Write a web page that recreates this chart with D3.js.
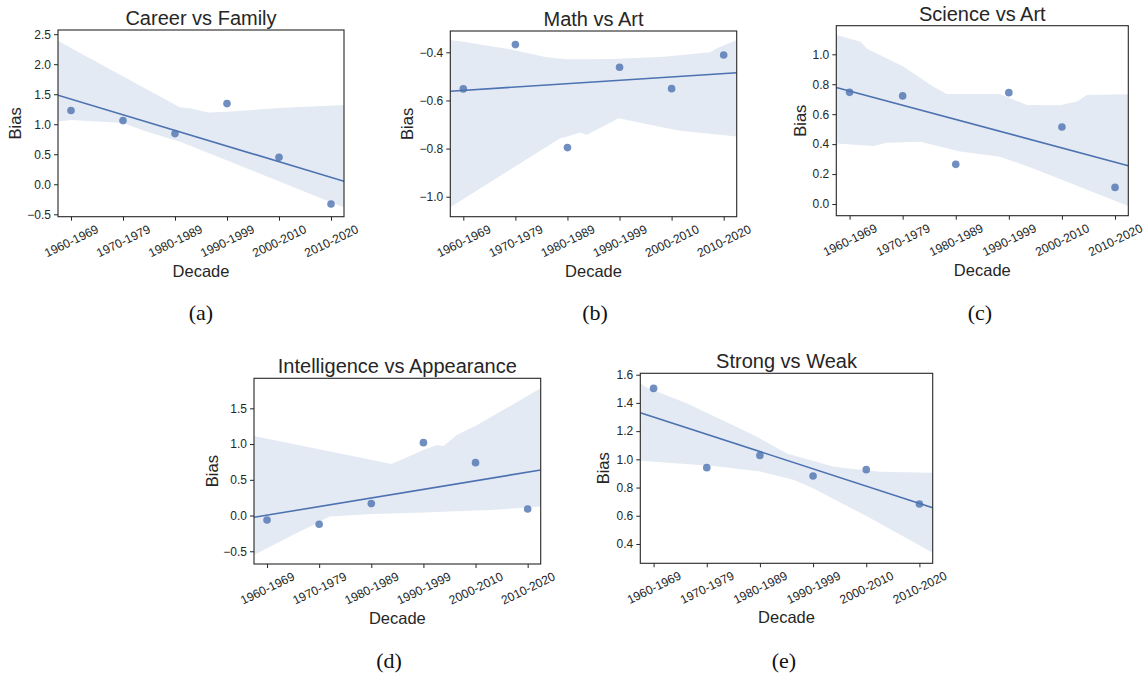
<!DOCTYPE html>
<html>
  <head>
    <meta charset="utf-8">
    <script src="https://d3js.org/d3.v7.min.js"></script>
    <style>
      body { margin: 0; background: #fff; }
      svg { display: block; font-family: "Liberation Sans", Arial, sans-serif; }
    </style>
  </head>
  <body>
    <script>

    // decade categories on the x axis
    var decades = ["1960-1969", "1970-1979", "1980-1989", "1990-1999", "2000-2010", "2010-2020"];

    // bias values per decade
    var careerFamily = [1.228, 1.061, 0.844, 1.344, 0.450, -0.328];
    var mathArt = [-0.552, -0.368, -0.796, -0.462, -0.551, -0.411];
    var scienceArt = [0.746, 0.722, 0.265, 0.744, 0.514, 0.111];
    var intelAppearance = [-0.062, -0.122, 0.167, 1.020, 0.740, 0.092];
    var strongWeak = [1.503, 0.941, 1.028, 0.882, 0.927, 0.683];

    // confidence band edges as [decade index, bias]
    var careerFamilyUpper = [[-0.25, 2.39], [0, 2.27], [2.1, 1.28], [2.29, 1.265], [2.64, 1.195], [3.0, 1.21], [4.0, 1.27], [5.25, 1.32]];
    var careerFamilyLower = [[-0.25, 1.045], [0, 1.07], [1, 1.02], [1.45, 0.88], [2.1, 0.71], [5.25, -0.385]];
    var mathArtUpper = [[-0.25, -0.349], [0.06, -0.358], [0.96, -0.39], [1.6, -0.421], [1.98, -0.429], [2.88, -0.428], [3.85, -0.418], [4.74, -0.40], [4.87, -0.383], [5.25, -0.349]];
    var mathArtLower = [[-0.25, -1.044], [1.86, -0.757], [1.95, -0.753], [2.24, -0.733], [2.37, -0.744], [2.98, -0.674], [3.91, -0.716], [4.17, -0.726], [5.25, -0.75]];
    var scienceArtUpper = [[-0.25, 1.129], [0.2, 1.085], [0.34, 1.035], [1.01, 0.918], [1.58, 0.784], [1.83, 0.735], [2.83, 0.735], [3.34, 0.661], [3.96, 0.659], [4.28, 0.684], [4.47, 0.728], [5.25, 0.733]];
    var scienceArtLower = [[-0.25, 0.405], [0.45, 0.388], [0.7, 0.41], [1.33, 0.416], [1.58, 0.394], [2.08, 0.35], [2.83, 0.316], [3.46, 0.238], [5.25, -0.013]];
    var intelAppearanceUpper = [[-0.25, 1.113], [2.39, 0.721], [3.0, 0.917], [3.26, 0.987], [3.39, 0.973], [3.64, 1.127], [4.03, 1.267], [5.25, 1.78]];
    var intelAppearanceLower = [[-0.25, -0.551], [0.56, -0.248], [0.89, -0.131], [1.2, -0.015], [2.04, 0.022], [3.0, 0.041], [4.28, 0.078], [4.99, 0.111], [5.25, 0.125]];
    var strongWeakUpper = [[-0.25, 1.539], [-0.13, 1.51], [0.62, 1.397], [1.88, 1.172], [2.51, 1.042], [3.39, 0.948], [3.64, 0.936], [4.27, 0.912], [5.25, 0.905]];
    var strongWeakLower = [[-0.25, 0.99], [1.13, 0.953], [2.01, 0.913], [2.64, 0.853], [3.01, 0.794], [4.02, 0.594], [5.25, 0.338]];

    // y tick values per panel
    var careerFamilyTicks = [-0.5, 0, 0.5, 1.0, 1.5, 2.0, 2.5];
    var mathArtTicks = [-1.0, -0.8, -0.6, -0.4];
    var scienceArtTicks = [0, 0.2, 0.4, 0.6, 0.8, 1.0];
    var intelAppearanceTicks = [-0.5, 0, 0.5, 1.0, 1.5];
    var strongWeakTicks = [0.4, 0.6, 0.8, 1.0, 1.2, 1.4, 1.6];

    var titles = ["Career vs Family", "Math vs Art", "Science vs Art", "Intelligence vs Appearance", "Strong vs Weak"];
    var captions = ["(a)", "(b)", "(c)", "(d)", "(e)"];

    var blue = "#4c72b0";
    var ink = "#262626";

    // panel boxes (pixels) and y extents
    var panels = [
      {values: careerFamily, upper: careerFamilyUpper, lower: careerFamilyLower, ticks: careerFamilyTicks,
       left: 58, right: 344, top: 30, bottom: 216.7, ymin: -0.54, ymax: 2.57, ylab: 43, capX: 201, capY: 320},
      {values: mathArt, upper: mathArtUpper, lower: mathArtLower, ticks: mathArtTicks,
       left: 450.3, right: 736.7, top: 31, bottom: 216.7, ymin: -1.083, ymax: -0.3115, ylab: 43, capX: 595, capY: 320},
      {values: scienceArt, upper: scienceArtUpper, lower: scienceArtLower, ticks: scienceArtTicks,
       left: 836.3, right: 1128.3, top: 25.7, bottom: 215.7, ymin: -0.078, ymax: 1.191, ylab: 36, capX: 980, capY: 320},
      {values: intelAppearance, upper: intelAppearanceUpper, lower: intelAppearanceLower, ticks: intelAppearanceTicks,
       left: 254, right: 540.7, top: 378.3, bottom: 564, ymin: -0.678, ymax: 1.92, ylab: 42, capX: 389, capY: 668},
      {values: strongWeak, upper: strongWeakUpper, lower: strongWeakLower, ticks: strongWeakTicks,
       left: 640.3, right: 932.7, top: 373.3, bottom: 563.3, ymin: 0.263, ymax: 1.61, ylab: 37, capX: 784, capY: 668}
    ];

    var svg = d3.select("body").append("svg")
        .attr("width", 1148)
        .attr("height", 675);

    var fmt = d3.format(".1f");

    panels.forEach(function(p, k) {
      var x = d3.scaleLinear().domain([-0.25, 5.25]).range([p.left, p.right]);
      var y = d3.scaleLinear().domain([p.ymin, p.ymax]).range([p.bottom, p.top]);
      var g = svg.append("g");

      var clipId = "clip" + k;
      svg.append("clipPath").attr("id", clipId)
        .append("rect")
        .attr("x", p.left).attr("y", p.top)
        .attr("width", p.right - p.left).attr("height", p.bottom - p.top);

      var plot = g.append("g").attr("clip-path", "url(#" + clipId + ")");

      // confidence band: upper edge forward, lower edge back
      var poly = p.upper.concat(p.lower.slice().reverse());
      plot.append("path")
        .attr("d", "M" + poly.map(function(d) { return x(d[0]) + "," + y(d[1]); }).join("L") + "Z")
        .attr("fill", blue)
        .attr("fill-opacity", 0.15);

      // least squares fit through the points
      var mx = d3.mean(p.values, function(d, i) { return i; });
      var my = d3.mean(p.values);
      var sxy = d3.sum(p.values, function(d, i) { return (i - mx) * (d - my); });
      var sxx = d3.sum(p.values, function(d, i) { return (i - mx) * (i - mx); });
      var slope = sxy / sxx;
      var fit = function(t) { return my + slope * (t - mx); };
      plot.append("line")
        .attr("x1", x(-0.25)).attr("y1", y(fit(-0.25)))
        .attr("x2", x(5.25)).attr("y2", y(fit(5.25)))
        .attr("stroke", blue)
        .attr("stroke-width", 1.6);

      plot.selectAll("circle")
        .data(p.values)
        .enter().append("circle")
        .attr("cx", function(d, i) { return x(i); })
        .attr("cy", function(d) { return y(d); })
        .attr("r", 3.8)
        .attr("fill", blue)
        .attr("fill-opacity", 0.8);

      // axes
      var xa = g.append("g")
        .attr("transform", "translate(0," + p.bottom + ")")
        .call(d3.axisBottom(x).tickValues(d3.range(6)).tickFormat(function(i) { return decades[i]; }).tickSize(4).tickSizeOuter(0));
      xa.selectAll("text")
        .attr("font-size", 12.2)
        .attr("fill", ink)
        .attr("dy", null)
        .attr("y", null)
        .attr("dominant-baseline", "central")
        .attr("text-anchor", "middle")
        .attr("transform", "translate(0,24.5) rotate(-26)");

      var ya = g.append("g")
        .attr("transform", "translate(" + p.left + ",0)")
        .call(d3.axisLeft(y).tickValues(p.ticks).tickFormat(fmt).tickSize(4).tickSizeOuter(0).tickPadding(3));
      ya.selectAll("text").attr("font-size", 12).attr("fill", ink);

      [xa, ya].forEach(function(a) {
        a.select(".domain").remove();
        a.selectAll("line").attr("stroke", ink).attr("stroke-width", 1);
        a.attr("font-family", null);
      });

      // frame
      g.append("rect")
        .attr("x", p.left).attr("y", p.top)
        .attr("width", p.right - p.left).attr("height", p.bottom - p.top)
        .attr("fill", "none")
        .attr("stroke", ink)
        .attr("stroke-width", 1.1);

      var cx = (p.left + p.right) / 2;
      g.append("text")
        .attr("x", cx).attr("y", p.top - 5)
        .attr("text-anchor", "middle")
        .attr("font-size", 20)
        .attr("fill", ink)
        .text(titles[k]);

      g.append("text")
        .attr("x", cx).attr("y", p.bottom + 60)
        .attr("text-anchor", "middle")
        .attr("font-size", 16.5)
        .attr("fill", ink)
        .text("Decade");

      var lx = p.left - p.ylab, ly = (p.top + p.bottom) / 2;
      g.append("text")
        .attr("transform", "translate(" + lx + "," + ly + ") rotate(-90)")
        .attr("text-anchor", "middle")
        .attr("dominant-baseline", "central")
        .attr("font-size", 16.5)
        .attr("fill", ink)
        .text("Bias");

      svg.append("text")
        .attr("x", p.capX).attr("y", p.capY)
        .attr("text-anchor", "middle")
        .attr("font-family", "'Liberation Serif', 'Times New Roman', serif")
        .attr("font-size", 22)
        .attr("fill", "#111")
        .text(captions[k]);
    });

    </script>
  </body>
</html>
